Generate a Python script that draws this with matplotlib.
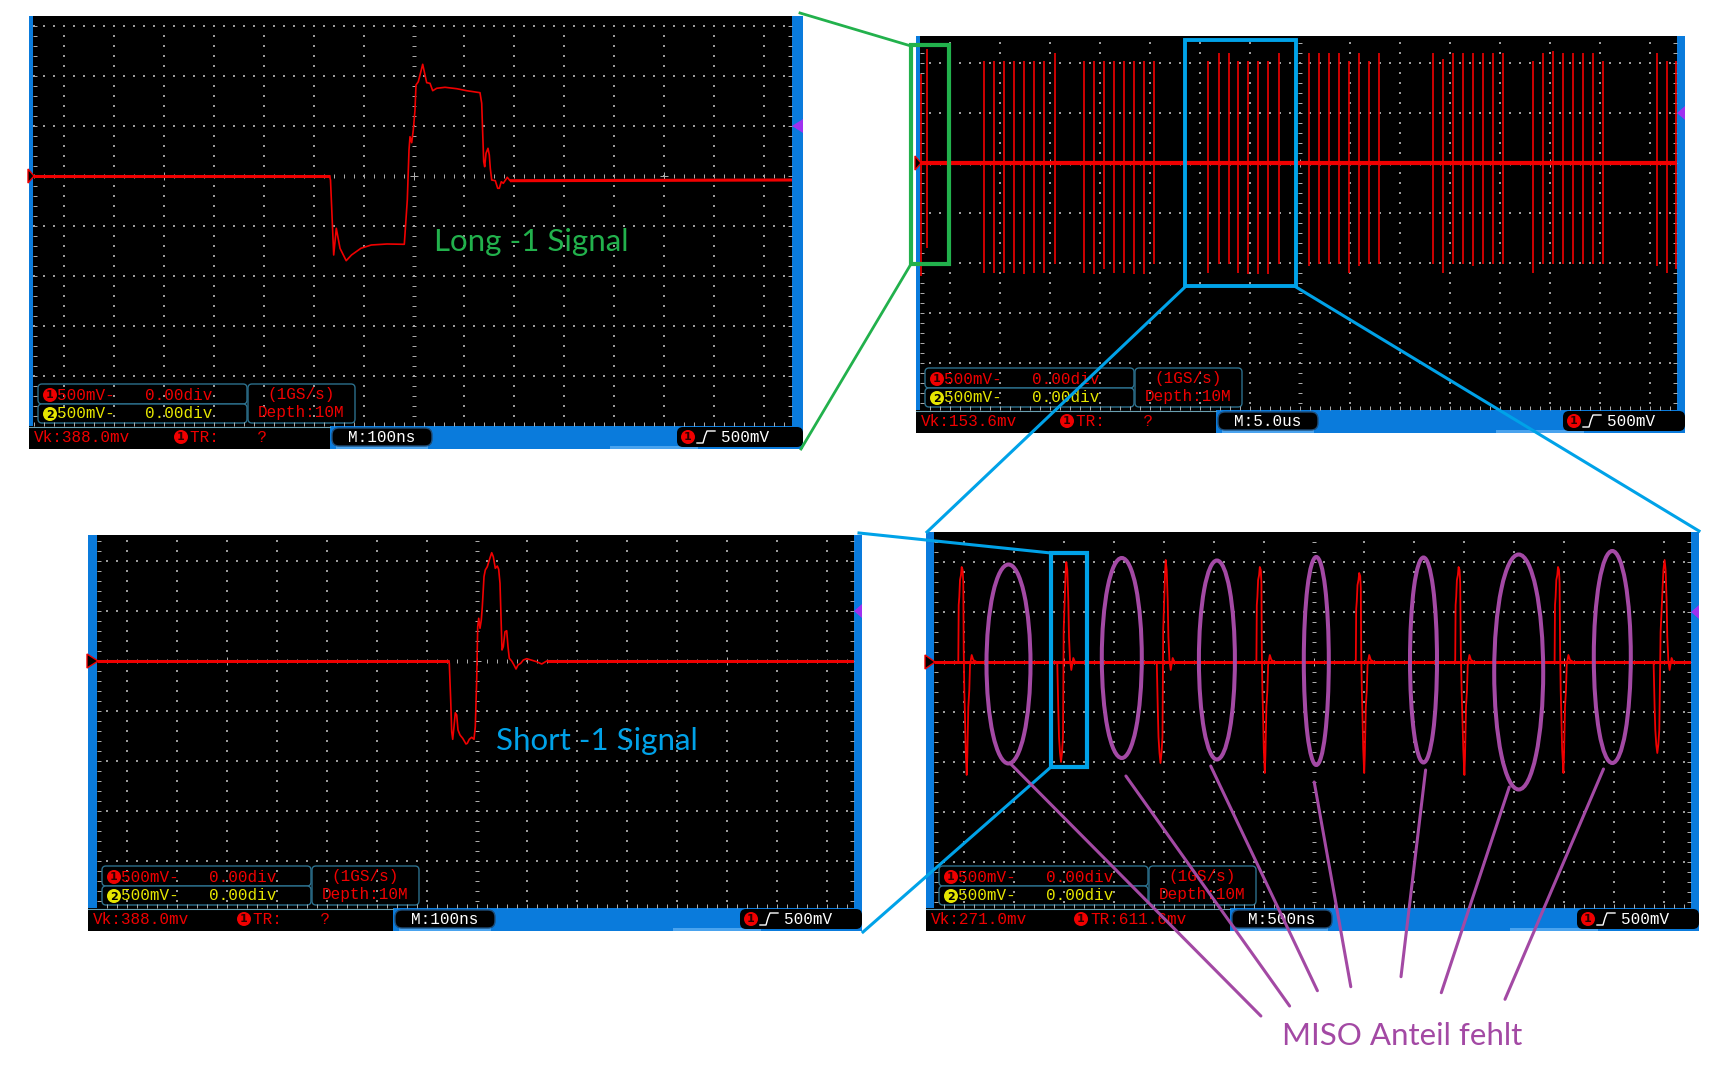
import numpy as np
import matplotlib.pyplot as plt
from matplotlib.patches import Rectangle, Ellipse, FancyBboxPatch, Circle, Polygon
from matplotlib.collections import LineCollection

W, H = 1721, 1071

# ---- traces (time, mV) ----
# top left, "Long -1", 100 ns/div
long_t = [-762, -169, -167, -160.6, -155.4, -148, -135.6, -125, -106.2, -85.4, -54, -19.4,
          -13.4, -10, -8, -4.6, -1.4, 2, 4, 8.6, 12, 17.4, 22, 25.4, 32, 37.4, 45.4, 62,
          85.4, 105.4, 132, 135.4, 137.4, 139.4, 141.4, 144, 148, 150.6, 152.6, 155.4,
          162.6, 167.4, 170.6, 174.6, 178.6, 186.6, 192, 756]
long_v = [0, 0, -40, -790, -523, -723, -847, -790, -723, -690, -680, -683,
          -240, 260, 393, 333, 460, 660, 910, 943, 1010, 1117, 1010, 933, 927, 853, 877, 887,
          873, 853, 833, 727, 427, 143, 93, 227, 277, 210, 77, -40,
          -47, -123, -123, -57, -73, -13, -47, -40]

# bottom left, "Short -1", 100 ns/div
short_t = [-760, -56, -55.4, -52.6, -50.6, -48.6, -46, -43.4, -40.6, -38, -34, -28.6, -22,
           -19.4, -15.4, -10.6, -6, -3.4, -0.6, 1.4, 3.4, 6, 8.6, 10.6, 14, 16.6, 20.6,
           24.6, 29.4, 32.6, 36.6, 40.6, 43.4, 46, 48, 50, 52.6, 56, 59.4, 62, 64.6, 69.4,
           74, 78, 82, 87.4, 92.6, 99.4, 119.4, 129.4, 139.4, 754]
short_v = [0, 0, -23, -390, -707, -783, -657, -517, -540, -690, -740, -773, -830,
           -823, -783, -763, -783, -657, -190, 343, 427, 327, 410, 543, 843, 910, 943,
           1010, 1083, 1043, 927, 950, 917, 777, 443, 110, 143, 293, 303, 143, 27, 0,
           -40, -80, -40, -23, 10, 23, -7, -30, 0, 0]

# top right overview, 5 us/div: one spike per bit (time us, top mV, bottom mV)
spike_t = [-37.9, -37.3,
           -31.6, -30.6, -29.6, -28.6, -27.6, -26.6, -25.6, -24.5,
           -21.6, -20.6, -19.6, -18.6, -17.6, -16.6, -15.6, -14.6,
           -9.2, -8.1, -7.1, -6.2, -5.2, -4.2, -3.2, -2.1,
           0.9, 1.9, 2.9, 3.9, 4.9, 5.9, 6.9, 7.9,
           13.3, 14.3, 15.3, 16.3, 17.3, 18.3, 19.3, 20.3,
           23.3, 24.3, 25.3, 26.3, 27.3, 28.3, 29.3, 30.3,
           35.7, 36.7, 37.6]
spike_top = [890, 1140,
             1020, 1020, 1020, 1020, 1020, 1020, 1020, 1100,
             1020, 1020, 1020, 1020, 1020, 1020, 1020, 1020,
             1020, 1100, 1100, 1020, 1020, 1020, 1020, 1100,
             1100, 1100, 1100, 1100, 1020, 1100, 1020, 1100,
             1100, 1040, 1100, 1100, 1100, 1100, 1100, 1100,
             1020, 1100, 1120, 1100, 1100, 1100, 1100, 1020,
             1100, 1020, 1020]
spike_bot = [-1130, -850,
             -1100, -1100, -1100, -1100, -1110, -1100, -1100, -1010,
             -1100, -1110, -1060, -1100, -1100, -1110, -1110, -1010,
             -1100, -1010, -1010, -1100, -1110, -1110, -1110, -1010,
             -1030, -1010, -1010, -1010, -1100, -1030, -1010, -1010,
             -1010, -1100, -1010, -1010, -1030, -1010, -1010, -1010,
             -1100, -1010, -1010, -1010, -1010, -1010, -1010, -1010,
             -1030, -1100, -1060]

# bottom right, 500 ns/div, the eight bits of one byte
miso_t = [-3800,
          -3557, -3553, -3547, -3540, -3530, -3523, -3513, -3507, -3503, -3497, -3490, -3483,
          -3473, -3467, -3457, -3447, -3440, -3423, -3407, -3373,
          -2567, -2557, -2550, -2540, -2530, -2520, -2510, -2503, -2493, -2483, -2477, -2467,
          -2457, -2450, -2440, -2427, -2407, -2390,
          -1572, -1562, -1555, -1545, -1535, -1525, -1515, -1508, -1498, -1488, -1483, -1473,
          -1463, -1456, -1446, -1433, -1413, -1396,
          -576, -572, -566, -559, -549, -542, -532, -526, -522, -516, -509, -502,
          -492, -486, -476, -466, -459, -442, -426, -392,
          418, 422, 428, 435, 445, 452, 462, 468, 472, 478, 485, 492,
          502, 508, 518, 528, 535, 552, 568, 602,
          1412, 1416, 1422, 1429, 1439, 1446, 1456, 1462, 1468, 1476, 1484, 1493,
          1504, 1510, 1520, 1530, 1537, 1554, 1570, 1604,
          2406, 2410, 2416, 2423, 2433, 2440, 2450, 2456, 2461, 2467, 2474, 2481,
          2494, 2500, 2510, 2520, 2527, 2544, 2560, 2594,
          3396, 3406, 3413, 3423, 3433, 3443, 3453, 3466, 3480, 3494, 3506, 3516,
          3526, 3533, 3543, 3556, 3576, 3593,
          3770]
miso_v = [0,
          0, 570, 650, 820, 870, 950, 920, 790, 120, -280, -550, -880,
          -1130, -950, -450, -280, -30, 70, 20, 0,
          -10, -480, -750, -910, -1000, -910, -750, 320, 620, 920, 1000, 920,
          620, 250, 20, -80, 40, 0,
          -10, -480, -750, -910, -1010, -910, -750, 320, 620, 920, 1020, 920,
          620, 250, 20, -80, 40, 0,
          0, 570, 650, 820, 870, 950, 920, 790, 120, -280, -550, -870,
          -1110, -930, -450, -280, -30, 70, 20, 0,
          0, 530, 610, 770, 820, 890, 860, 740, 110, -280, -550, -870,
          -1110, -930, -450, -280, -30, 70, 20, 0,
          0, 570, 650, 820, 870, 950, 920, 790, 120, -280, -550, -880,
          -1130, -950, -450, -280, -30, 70, 20, 0,
          0, 570, 650, 820, 870, 950, 920, 790, 120, -280, -550, -870,
          -1110, -930, -450, -280, -30, 70, 20, 0,
          -10, -450, -680, -830, -910, -830, -680, 300, 620, 920, 1020, 920,
          620, 250, 20, -80, 40, 0,
          0]

# status line texts of the four screens
vk_text = ['Vk:388.0mv', 'Vk:153.6mv', 'Vk:388.0mv', 'Vk:271.0mv']
tr_text = ['TR:    ?', 'TR:    ?', 'TR:    ?', 'TR:611.6mv']
m_text = ['M:100ns', 'M:5.0us', 'M:100ns', 'M:500ns']
time_div = [100, 5, 100, 500]
volt_div = 500

# screen geometry in pixels: left, top, right, bottom, centre x, centre y, left bar, right bar
screens = [
    (33, 16, 792, 426, 414, 176, (29, 33), (792, 803)),
    (920, 36, 1677, 410, 1300, 163, (916, 920), (1677, 1685)),
    (97, 535, 854, 908, 477, 661, (88, 97), (854, 862)),
    (934, 532, 1691, 908, 1314, 662, (926, 934), (1691, 1699)),
]

RED = '#f00000'
YEL = '#e6e600'
BLUE = '#0a7bdc'
GRID = '#9a9a9a'
BOXEDGE = '#2c6f8c'
MONO = 'Liberation Mono'

fig = plt.figure(figsize=(W / 100, H / 100), dpi=100)
fig.patch.set_facecolor('white')


def pixel_axes(z):
    a = fig.add_axes([0, 0, 1, 1])
    a.set_xlim(0, W)
    a.set_ylim(H, 0)
    a.axis('off')
    a.patch.set_alpha(0)
    a.set_zorder(z)
    return a


bg = pixel_axes(0)
top = pixel_axes(10)


def rbox(x0, y0, x1, y1, fc, ec, r=4, lw=1.0):
    bg.add_patch(FancyBboxPatch((x0 + r, y0 + r), x1 - x0 - 2 * r, y1 - y0 - 2 * r,
                                boxstyle='round,pad=%g' % r, fc=fc, ec=ec, lw=lw))


def badge(x, y, color, num):
    bg.add_patch(Circle((x, y), 7, fc=color, ec='none'))
    bg.text(x, y + 0.5, num, color='#2a0000' if num == '1' else 'black', fontsize=8,
            fontweight='bold', ha='center', va='center', family='DejaVu Sans')


def mono(x, y, s, color, ha='left', size=11.5):
    bg.text(x, y, s, color=color, fontsize=size, family=MONO, ha=ha, va='center')


def draw_screen(i):
    L, T, R, B, cx, cy, lb, rb = screens[i]
    bg.add_patch(Rectangle((L, T), R - L, B - T, fc='black', ec='none'))
    bg.add_patch(Rectangle((lb[0], T), lb[1] - lb[0], B - T, fc=BLUE, ec='none'))
    bg.add_patch(Rectangle((rb[0], T), rb[1] - rb[0], B - T, fc=BLUE, ec='none'))

    # dotted graticule, 50 px per division, dots every 10 px
    xs_minor = np.array([cx + 10 * j for j in range(-40, 41) if L < cx + 10 * j < R])
    ys_minor = np.array([cy + 10 * j for j in range(-40, 41) if T < cy + 10 * j < B])
    xs_major = [x for x in xs_minor if (x - cx) % 50 == 0 and x != cx]
    ys_major = [y for y in ys_minor if (y - cy) % 50 == 0 and y != cy]
    px, py = [], []
    for x in xs_major:
        px += [x] * len(ys_minor)
        py += list(ys_minor)
    for y in ys_major:
        px += list(xs_minor)
        py += [y] * len(xs_minor)
    bg.scatter(px, py, s=0.9, marker='s', c=GRID, linewidths=0, zorder=3)

    segs = []
    for x in xs_minor:
        segs.append([(x, cy - 2), (x, cy + 2)])
        segs.append([(x, B - 4), (x, B)])
    for y in ys_minor:
        segs.append([(cx - 2, y), (cx + 2, y)])
        segs.append([(L, y), (L + 4, y)])
        segs.append([(R - 4, y), (R, y)])
    for x in (cx - 250, cx, cx + 250):
        segs.append([(x - 4, cy), (x + 4, cy)])
        segs.append([(x, cy - 4), (x, cy + 4)])
    bg.add_collection(LineCollection(segs, colors='#b0b0b0', linewidths=0.7, zorder=3))

    # channel marker left, trigger level marker right
    bg.add_patch(Polygon([(lb[0] - 1, cy - 7), (lb[1] + 1, cy), (lb[0] - 1, cy + 7)],
                         fc='black', ec=RED, lw=1.0, zorder=4))
    bg.add_patch(Polygon([(rb[1], cy - 57), (rb[0], cy - 50), (rb[1], cy - 43)],
                         fc='#a030f0', ec='none', zorder=4))

    # channel info boxes
    rbox(L + 5, B - 42, L + 214, B - 22, 'black', BOXEDGE)
    rbox(L + 5, B - 22, L + 214, B - 3, 'black', BOXEDGE)
    rbox(L + 215, B - 42, L + 322, B - 3, 'black', BOXEDGE)
    badge(L + 17, B - 31, RED, '1')
    badge(L + 17, B - 12, YEL, '2')
    mono(L + 24, B - 31, '500mV-', RED)
    mono(L + 112, B - 31, '0.00div', RED)
    mono(L + 24, B - 12, '500mV-', YEL)
    mono(L + 112, B - 12, '0.00div', YEL)
    mono(L + 268, B - 32, '(1GS/s)', RED, ha='center')
    mono(L + 268, B - 13, 'Depth:10M', RED, ha='center')

    # status line
    bg.add_patch(Rectangle((lb[0], B), cx - 84 - lb[0], 23, fc='black', ec='none'))
    bg.add_patch(Rectangle((cx - 84, B), rb[1] - cx + 84, 23, fc=BLUE, ec='none'))
    bg.add_patch(Rectangle((cx - 78, B + 20), 92, 3, fc='#4aa3ee', ec='none'))
    bg.add_patch(Rectangle((cx + 196, B + 20), 88, 3, fc='#4aa3ee', ec='none'))
    bg.plot([lb[0], cx - 84], [B + 0.5, B + 0.5], color='#6a9fb0', lw=0.8)
    mono(lb[0] + 5, B + 11, vk_text[i], RED)
    badge(cx - 233, B + 11, RED, '1')
    mono(cx - 224, B + 11, tr_text[i], RED)
    rbox(cx - 82, B + 2, cx + 18, B + 20, 'black', '#1d4d7a', r=7)
    mono(cx - 32, B + 11, m_text[i], 'white', ha='center')
    rbox(cx + 263, B + 1, rb[1], B + 21, 'black', 'none', r=6)
    badge(cx + 274, B + 11, RED, '1')
    bg.plot([cx + 283, cx + 289, cx + 291, cx + 293, cx + 301],
            [B + 17, B + 17, B + 10, B + 5, B + 5], color='white', lw=1.0)
    mono(cx + 307, B + 11, '500mV', 'white')

    # trace axes, data in time / mV
    ax = fig.add_axes([L / W, 1 - B / H, (R - L) / W, (B - T) / H])
    td = time_div[i]
    ax.set_xlim((L - cx) / 50 * td, (R - cx) / 50 * td)
    ax.set_ylim((cy - B) / 50 * volt_div, (cy - T) / 50 * volt_div)
    ax.axis('off')
    ax.patch.set_alpha(0)
    ax.set_zorder(5)
    return ax


axes = [draw_screen(i) for i in range(4)]

# long -1
ax = axes[0]
ax.plot(long_t, long_v, color=RED, lw=1.2)
ax.plot(long_t[:2], long_v[:2], color=RED, lw=2.2, solid_capstyle='butt')
ax.plot(long_t[-2:], long_v[-2:], color=RED, lw=2.2, solid_capstyle='butt')

# overview
ax = axes[1]
ax.plot([-38, 37.7], [0, 0], color=RED, lw=3.0, solid_capstyle='butt')
ax.vlines(spike_t, spike_bot, spike_top, color=RED, lw=1.2)

# short -1
ax = axes[2]
ax.plot(short_t, short_v, color=RED, lw=1.2)
ax.plot(short_t[:2], short_v[:2], color=RED, lw=2.2, solid_capstyle='butt')
ax.plot(short_t[-2:], short_v[-2:], color=RED, lw=2.2, solid_capstyle='butt')

# zoomed byte
ax = axes[3]
ax.plot([-3800, 3770], [0, 0], color=RED, lw=2.2, solid_capstyle='butt')
ax.plot(miso_t, miso_v, color=RED, lw=1.3)

# ---- annotations ----
GREEN = '#22b14c'
CYAN = '#00a2e8'
PURPLE = '#a349a4'

top.add_patch(Rectangle((911, 45), 38, 219, fill=False, ec=GREEN, lw=3.0))
top.plot([800, 911], [13, 46], color=GREEN, lw=2.0)
top.plot([801, 911], [449, 264], color=GREEN, lw=2.0)

top.add_patch(Rectangle((1185, 40), 111, 246, fill=False, ec=CYAN, lw=2.8))
top.plot([1185, 927], [287, 532], color=CYAN, lw=2.2)
top.plot([1296, 1699], [287, 531], color=CYAN, lw=2.2)

top.add_patch(Rectangle((1051, 553), 36, 214, fill=False, ec=CYAN, lw=3.0))
top.plot([859, 1051], [533, 553], color=CYAN, lw=2.2)
top.plot([863, 1051], [932, 767], color=CYAN, lw=2.2)

ellipses = [(1008.5, 664, 44, 199), (1121.8, 658, 40, 200), (1216.9, 660, 36, 199),
            (1316.3, 661, 25, 208), (1423.5, 660, 27, 205), (1518.7, 672, 49, 235),
            (1612.3, 657, 37, 212)]
for ex, ey, ew, eh in ellipses:
    top.add_patch(Ellipse((ex, ey), ew, eh, fill=False, ec=PURPLE, lw=2.9))

pointers = [((1009.8, 763), (1260.9, 1016)), ((1125.9, 776), (1289.6, 1006)),
            ((1210.7, 766), (1317.4, 990.7)), ((1314.2, 782), (1350.8, 986.7)),
            ((1425.6, 770), (1401, 976.7)), ((1509.3, 787), (1441.3, 992.7)),
            ((1603.5, 769), (1505, 999.3))]
for (x0, y0), (x1, y1) in pointers:
    top.plot([x0, x1], [y0, y1], color=PURPLE, lw=2.2, solid_capstyle='round')

top.text(434, 251, 'Long -1 Signal', color=GREEN, fontsize=22.5, family='Lato', va='baseline')
top.text(496, 750, 'Short -1 Signal', color=CYAN, fontsize=22.5, family='Lato', va='baseline')
top.text(1282, 1045, 'MISO Anteil fehlt', color=PURPLE, fontsize=22.5, family='Lato',
         va='baseline')

fig.savefig('out.png', dpi=100)
